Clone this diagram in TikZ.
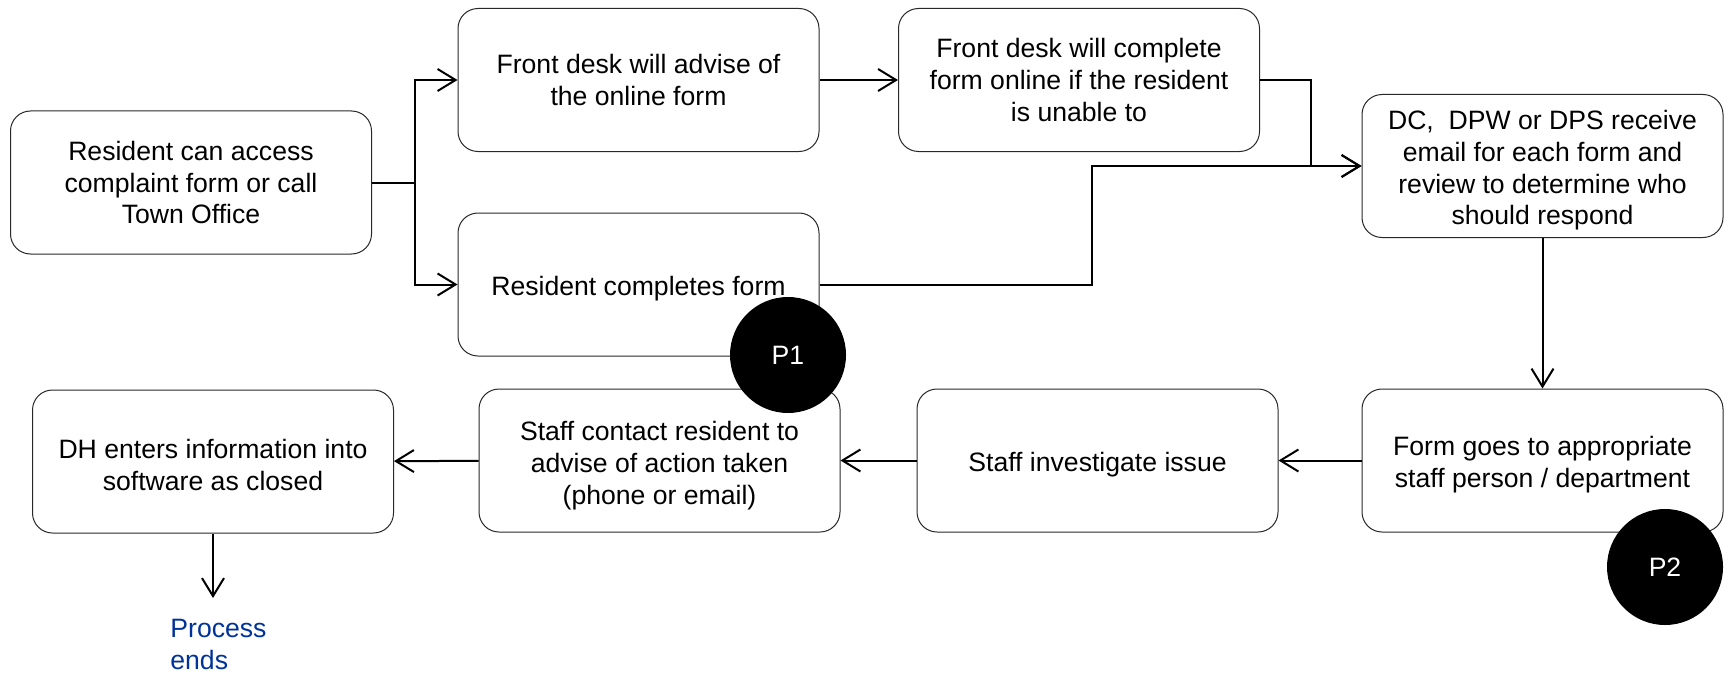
\documentclass[tikz,border=0pt]{standalone}
\usepackage{fontspec}
\setmainfont{Liberation Sans}
\usepackage{tikz}
\usetikzlibrary{arrows.meta}
\definecolor{endblue}{RGB}{0,51,153}
\definecolor{rand}{RGB}{40,40,40}
\newcommand{\drop}[1]{\rule{0pt}{#1}}
\tikzset{>={Straight Barb[length=9pt,width=11pt]}}
\tikzset{
	stepbox/.style={draw=rand, line width=0.5pt, rounded corners=10pt, fill=white,
		minimum width=180.5pt, minimum height=71.5pt, align=center, inner sep=2pt},
	marker/.style={circle, fill=black, text=white, minimum size=58pt, inner sep=0pt},
	link/.style={line width=1pt}
}

\begin{document}
\begin{tikzpicture}[x=0.5pt, y=-0.5pt, font=\fontsize{13.3pt}{15.85pt}\selectfont]

	\useasboundingbox (0,0) rectangle (1728,674);

	% top rows
	\node[stepbox] (start) at (191,182.5) {Resident can access\\complaint form or call\\Town Office};
	\node[stepbox] (advise) at (638.5,80) {Front desk will advise of\\the online form};
	\node[stepbox] (online) at (638.5,284.5) {\drop{13.9pt}Resident completes form};
	\node[stepbox] (complete) at (1079,80) {Front desk will complete\\form online if the resident\\is unable to};
	\node[stepbox] (review) at (1542.5,166) {\drop{14.1pt}DC,\ \ DPW or DPS receive\\email for each form and\\review to determine who\\should respond};

	% bottom row
	\node[stepbox] (assign) at (1542.5,460.5) {\drop{14.1pt}Form goes to appropriate\\staff person / department};
	\node[stepbox] (investigate) at (1097.5,460.5) {\drop{13.9pt}Staff investigate issue};
	\node[stepbox] (contact) at (659.5,460.5) {\drop{14.7pt}Staff contact resident to\\advise of action taken\\(phone or email)};
	\node[stepbox] (close) at (213,461.5) {\drop{12.9pt}DH enters information into\\software as closed};

	\node[text=endblue, align=left, anchor=north west, inner sep=0pt] (ends) at (170,619) {Process\\ends};
	\coordinate (fork) at (415,182.5);
	\coordinate (stop) at (213,598);

	% connectors
	\draw[link] (start) -- (fork);
	\draw[link, ->] (fork) |- (advise);
	\draw[link, ->] (fork) |- (online);
	\draw[link, ->] (advise) -- (complete);
	\draw[link, ->] (complete.east) -- ++(51,0) |- (review);
	\draw[link, ->] (online.east) -- ++(272,0) |- (review);
	\draw[link, ->] (review) -- (assign);
	\draw[link, ->] (assign) -- (investigate);
	\draw[link, ->] (investigate) -- (contact);
	\draw[link, ->] (contact) -- (close);
	\draw[link, ->] (close) -- (stop);

	\node[marker] (p1) at (788,355) {P1};
	\node[marker] (p2) at (1665,567) {P2};
\end{tikzpicture}
\end{document}
